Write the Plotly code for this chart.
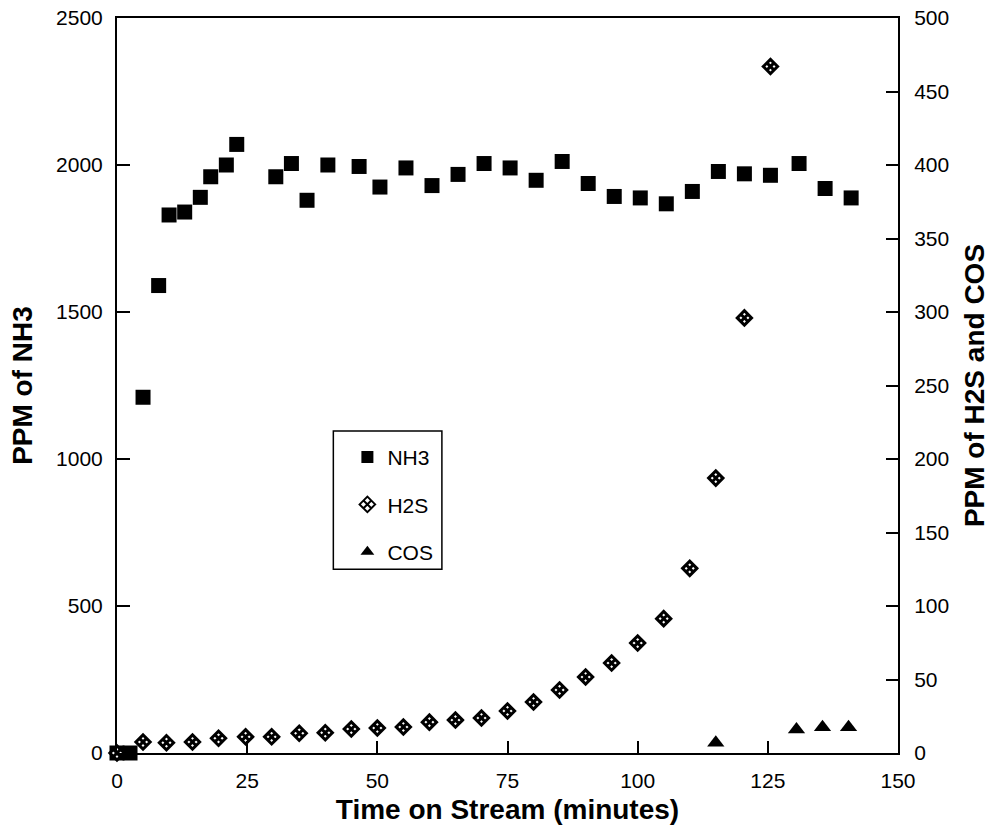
import plotly.graph_objects as go

# ---- data ----
nh3_t = [0, 2.5, 5, 8, 10, 13, 16, 18, 21, 23, 30.5, 33.5, 36.5, 40.5, 46.5, 50.5,
         55.5, 60.5, 65.5, 70.5, 75.5, 80.5, 85.5, 90.5, 95.5, 100.5, 105.5, 110.5,
         115.5, 120.5, 125.5, 131, 136, 141]
nh3_ppm = [0, 0, 1210, 1590, 1830, 1840, 1890, 1960, 2000, 2070, 1960, 2005, 1880,
           2000, 1995, 1925, 1990, 1930, 1968, 2005, 1990, 1948, 2012, 1937, 1893,
           1888, 1868, 1910, 1978, 1970, 1965, 2005, 1920, 1888]

h2s_t = [0, 5, 9.5, 14.5, 19.5, 24.7, 29.7, 35, 40, 45, 50, 55, 60, 65, 70, 75, 80,
         85, 90, 95, 100, 105, 110, 115, 120.5, 125.5]
h2s_ppm = [0, 7.5, 7, 7.5, 10, 11, 11, 13.4, 13.8, 16.3, 17, 17.7, 21, 22.4, 23.8,
           28.6, 34.7, 42.9, 51.7, 61.2, 74.8, 91.4, 125.6, 187, 296, 467]

cos_t = [115, 130.5, 135.5, 140.5]
cos_ppm = [7, 16, 17.5, 17.5]

x_ticks = [0, 25, 50, 75, 100, 125, 150]
y1_ticks = [0, 500, 1000, 1500, 2000, 2500]
y2_ticks = [0, 50, 100, 150, 200, 250, 300, 350, 400, 450, 500]

FONT = "Liberation Sans, Arial, sans-serif"

fig = go.Figure()
fig.add_trace(go.Scatter(
    x=nh3_t, y=nh3_ppm, name="NH3", mode="markers", legendgroup="a",
    marker=dict(symbol="square", size=15, color="black"), cliponaxis=False))
fig.add_trace(go.Scatter(
    x=h2s_t, y=h2s_ppm, name="H2S", mode="markers", yaxis="y2", legendgroup="b",
    marker=dict(symbol="diamond-x", size=11, color="white",
                line=dict(color="black", width=3)), cliponaxis=False))
fig.add_trace(go.Scatter(
    x=cos_t, y=cos_ppm, name="COS", mode="markers", yaxis="y2", legendgroup="c",
    marker=dict(symbol="triangle-up", size=15, color="black"), cliponaxis=False))

axis_common = dict(showgrid=False, zeroline=False, showline=True, linecolor="black",
                   linewidth=2, ticks="inside", tickcolor="black", tickwidth=2,
                   automargin=False,
                   tickfont=dict(family=FONT, size=21, color="black"))

fig.update_layout(
    width=993, height=831,
    margin=dict(l=117, r=95, t=18, b=78, autoexpand=False),
    paper_bgcolor="white", plot_bgcolor="white",
    font=dict(family=FONT, color="black"),
    xaxis=dict(range=[0, 150], tickvals=x_ticks, ticklen=12, mirror=True,
               ticklabelstandoff=8,
               title=dict(text="<b>Time on Stream (minutes)</b>",
                          font=dict(family=FONT, size=28), standoff=8),
               **axis_common),
    yaxis=dict(range=[0, 2500], tickvals=y1_ticks, ticklen=13, mirror=True,
               ticklabelstandoff=8,
               title=dict(text="<b>PPM of NH3</b>",
                          font=dict(family=FONT, size=28), standoff=15),
               **axis_common),
    yaxis2=dict(range=[0, 500], tickvals=y2_ticks, ticklen=12, overlaying="y",
                side="right", ticklabelstandoff=10,
                title=dict(text="<b>PPM of H2S and COS</b>",
                           font=dict(family=FONT, size=28), standoff=16),
                **axis_common),
    showlegend=True,
    legend=dict(x=0.295, y=0.43, xanchor="left", yanchor="top",
                bgcolor="rgba(0,0,0,0)", borderwidth=0, tracegroupgap=17,
                itemsizing="constant",
                font=dict(family=FONT, size=21, color="black")),
    shapes=[dict(type="rect", xref="paper", yref="paper",
                 x0=0.277, x1=0.416, y0=0.250, y1=0.438,
                 line=dict(color="black", width=1.5), fillcolor="rgba(0,0,0,0)")],
)

fig.write_html("out.html",
               config={"displayModeBar": False},
               post_script="document.body.style.margin='0';")
